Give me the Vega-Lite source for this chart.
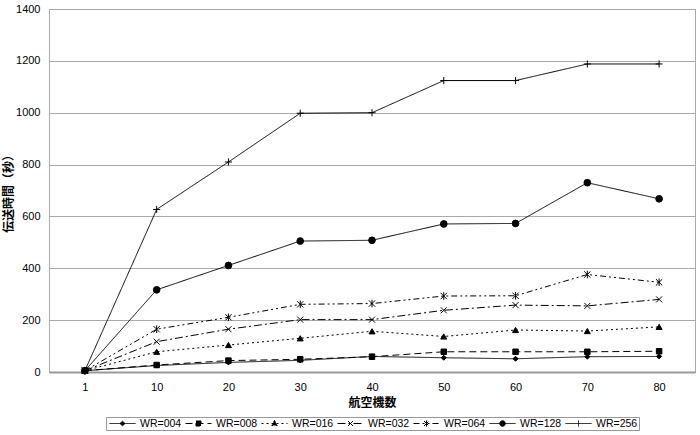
{
  "$schema": "https://vega.github.io/schema/vega-lite/v6.json",
  "width": 646,
  "height": 363,
  "autosize": "none",
  "padding": {"left": 49, "top": 9, "right": 5, "bottom": 63},
  "background": "white",
  "config": {
    "view": {"stroke": "#555", "strokeDash": [1, 1], "strokeWidth": 1},
    "font": "Liberation Sans",
    "point": {"filled": true, "color": "black", "stroke": "black", "strokeWidth": 1, "opacity": 1}
  },
  "data": {
    "values": [
      {"series": "WR=004", "n": 1, "t": 5}, {"series": "WR=004", "n": 10, "t": 25}, {"series": "WR=004", "n": 20, "t": 37}, {"series": "WR=004", "n": 30, "t": 45}, {"series": "WR=004", "n": 40, "t": 60}, {"series": "WR=004", "n": 50, "t": 55}, {"series": "WR=004", "n": 60, "t": 51}, {"series": "WR=004", "n": 70, "t": 59}, {"series": "WR=004", "n": 80, "t": 60},
      {"series": "WR=008", "n": 1, "t": 5}, {"series": "WR=008", "n": 10, "t": 27}, {"series": "WR=008", "n": 20, "t": 44}, {"series": "WR=008", "n": 30, "t": 49}, {"series": "WR=008", "n": 40, "t": 59}, {"series": "WR=008", "n": 50, "t": 78}, {"series": "WR=008", "n": 60, "t": 78}, {"series": "WR=008", "n": 70, "t": 78}, {"series": "WR=008", "n": 80, "t": 80},
      {"series": "WR=016", "n": 1, "t": 5}, {"series": "WR=016", "n": 10, "t": 78}, {"series": "WR=016", "n": 20, "t": 104}, {"series": "WR=016", "n": 30, "t": 130}, {"series": "WR=016", "n": 40, "t": 157}, {"series": "WR=016", "n": 50, "t": 137}, {"series": "WR=016", "n": 60, "t": 162}, {"series": "WR=016", "n": 70, "t": 158}, {"series": "WR=016", "n": 80, "t": 174},
      {"series": "WR=032", "n": 1, "t": 5}, {"series": "WR=032", "n": 10, "t": 117}, {"series": "WR=032", "n": 20, "t": 165}, {"series": "WR=032", "n": 30, "t": 202}, {"series": "WR=032", "n": 40, "t": 202}, {"series": "WR=032", "n": 50, "t": 238}, {"series": "WR=032", "n": 60, "t": 258}, {"series": "WR=032", "n": 70, "t": 255}, {"series": "WR=032", "n": 80, "t": 280},
      {"series": "WR=064", "n": 1, "t": 5}, {"series": "WR=064", "n": 10, "t": 165}, {"series": "WR=064", "n": 20, "t": 211}, {"series": "WR=064", "n": 30, "t": 261}, {"series": "WR=064", "n": 40, "t": 264}, {"series": "WR=064", "n": 50, "t": 293}, {"series": "WR=064", "n": 60, "t": 294}, {"series": "WR=064", "n": 70, "t": 376}, {"series": "WR=064", "n": 80, "t": 346},
      {"series": "WR=128", "n": 1, "t": 5}, {"series": "WR=128", "n": 10, "t": 317}, {"series": "WR=128", "n": 20, "t": 411}, {"series": "WR=128", "n": 30, "t": 505}, {"series": "WR=128", "n": 40, "t": 508}, {"series": "WR=128", "n": 50, "t": 571}, {"series": "WR=128", "n": 60, "t": 573}, {"series": "WR=128", "n": 70, "t": 730}, {"series": "WR=128", "n": 80, "t": 668},
      {"series": "WR=256", "n": 1, "t": 5}, {"series": "WR=256", "n": 10, "t": 627}, {"series": "WR=256", "n": 20, "t": 810}, {"series": "WR=256", "n": 30, "t": 998}, {"series": "WR=256", "n": 40, "t": 1000}, {"series": "WR=256", "n": 50, "t": 1124}, {"series": "WR=256", "n": 60, "t": 1124}, {"series": "WR=256", "n": 70, "t": 1188}, {"series": "WR=256", "n": 80, "t": 1188}
    ]
  },
  "encoding": {
    "x": {
      "field": "n",
      "type": "ordinal",
      "scale": {"type": "point", "padding": 0.5},
      "axis": {
        "title": "航空機数",
        "titleFont": "Noto Sans CJK JP",
        "titleFontSize": 12,
        "titleFontWeight": "bold",
        "titleColor": "black",
        "titlePadding": 5,
        "labelAngle": 0,
        "labelFontSize": 11,
        "labelColor": "black",
        "labelPadding": 9,
        "ticks": false,
        "domain": true,
        "domainColor": "#999",
        "domainWidth": 2,
        "grid": false
      }
    },
    "y": {
      "field": "t",
      "type": "quantitative",
      "scale": {"domain": [0, 1400], "nice": false},
      "axis": {
        "title": "伝送時間（秒）",
        "titleFont": "Noto Sans CJK JP",
        "titleFontSize": 12,
        "titleFontWeight": "bold",
        "titleColor": "black",
        "titlePadding": 0,
        "format": "d",
        "values": [0, 200, 400, 600, 800, 1000, 1200, 1400],
        "labelFontSize": 11,
        "labelColor": "black",
        "labelPadding": 9,
        "ticks": false,
        "domain": false,
        "grid": true,
        "gridColor": "#aaa",
        "gridWidth": 1
      }
    }
  },
  "layer": [
    {
      "mark": {"type": "line", "color": "black", "strokeWidth": 1},
      "encoding": {
        "strokeDash": {
          "field": "series",
          "type": "nominal",
          "scale": {
            "domain": ["WR=004", "WR=008", "WR=016", "WR=032", "WR=064", "WR=128", "WR=256"],
            "range": [[1, 0], [7, 4], [2, 3], [8, 3, 2, 3], [6, 3, 2, 3, 2, 3], [1, 0], [1, 0]]
          },
          "legend": {
            "orient": "none",
            "legendX": 57,
            "legendY": 408,
            "direction": "horizontal",
            "columns": 7,
            "title": null,
            "symbolSize": 100,
            "symbolStrokeColor": "black",
            "symbolStrokeWidth": 1,
            "labelFontSize": 10.5,
            "labelColor": "black",
            "labelOffset": 22,
            "columnPadding": 1,
            "padding": 1,
            "strokeColor": "#999",
            "encode": {
              "symbols": {
                "update": {
                  "fill": {"value": "black"},
                  "stroke": {"value": "black"},
                  "strokeWidth": {"value": 1},
                  "opacity": {"value": 1},
                  "shape": {"signal": "datum.value === 'WR=004' ? 'M-0.6,0L4.6,0M1.5,0L2,-0.45L2.5,0L2,0.45Z' : datum.value === 'WR=008' ? 'M-0.6,0L4.6,0M1.5,-0.5L2.5,-0.5L2.5,0.5L1.5,0.5Z' : datum.value === 'WR=016' ? 'M-0.6,0L4.6,0M2,-0.6L2.55,0.4L1.45,0.4Z' : datum.value === 'WR=032' ? 'M-0.6,0L4.6,0M1.5,-0.5L2.5,0.5M1.5,0.5L2.5,-0.5' : datum.value === 'WR=064' ? 'M-0.6,0L4.6,0M1.5,-0.5L2.5,0.5M1.5,0.5L2.5,-0.5M2,-0.6L2,0.6' : datum.value === 'WR=128' ? 'M-0.6,0L4.6,0M2.55,0A0.55,0.55,0,1,1,1.45,0A0.55,0.55,0,1,1,2.55,0Z' : 'M-0.6,0L4.6,0M2,-0.6L2,0.6'"}
                }
              }
            }
          }
        }
      }
    },
    {"transform": [{"filter": "datum.series === 'WR=004'"}], "mark": {"type": "point", "shape": "diamond", "size": 25}, "encoding": {}},
    {"transform": [{"filter": "datum.series === 'WR=008'"}], "mark": {"type": "point", "shape": "square", "size": 30}, "encoding": {}},
    {"transform": [{"filter": "datum.series === 'WR=016'"}], "mark": {"type": "point", "shape": "triangle-up", "size": 36}, "encoding": {}},
    {"transform": [{"filter": "datum.series === 'WR=032'"}], "mark": {"type": "point", "shape": "M-1,-1L1,1M-1,1L1,-1", "size": 36}, "encoding": {}},
    {"transform": [{"filter": "datum.series === 'WR=064'"}], "mark": {"type": "point", "shape": "M-1,-1L1,1M-1,1L1,-1M0,-1.2L0,1.2", "size": 40}, "encoding": {}},
    {"transform": [{"filter": "datum.series === 'WR=128'"}], "mark": {"type": "point", "shape": "circle", "size": 45}, "encoding": {}},
    {"transform": [{"filter": "datum.series === 'WR=256'"}], "mark": {"type": "point", "shape": "M0,-1L0,1M-1,0L1,0", "size": 50}, "encoding": {}}
  ]
}
